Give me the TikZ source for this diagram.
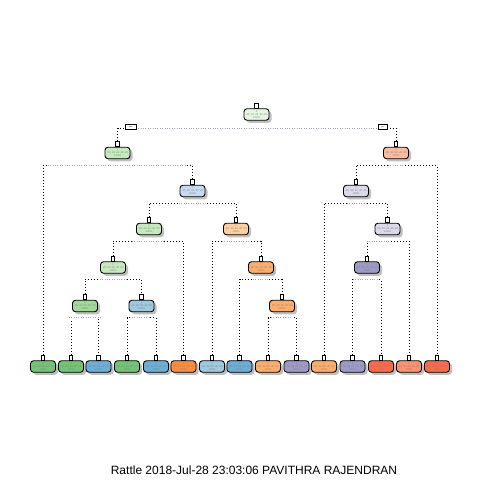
\documentclass[tikz,border=0pt]{standalone}
\usepackage{fontspec}
\setmainfont{Liberation Sans}
\usetikzlibrary{shadows}
\definecolor{cA}{HTML}{E5F5E0}
\definecolor{cG1}{HTML}{C7E9C0}
\definecolor{cG2}{HTML}{A1D99B}
\definecolor{cG3}{HTML}{74C476}
\definecolor{cB1}{HTML}{C6DBEF}
\definecolor{cB2}{HTML}{9ECAE1}
\definecolor{cB3}{HTML}{6BAED6}
\definecolor{cO1}{HTML}{FDD0A2}
\definecolor{cO2}{HTML}{FDAE6B}
\definecolor{cO3}{HTML}{FD8D3C}
\definecolor{cP1}{HTML}{DADAEB}
\definecolor{cP2}{HTML}{9E9AC8}
\definecolor{cR1}{HTML}{FCBBA1}
\definecolor{cR2}{HTML}{FC9272}
\definecolor{cR3}{HTML}{FB6A4A}
\definecolor{lblcol}{HTML}{A4A2C4}
\tikzset{
  nd/.style={draw=black, line width=0.9pt, rounded corners=3pt,
    minimum width=25pt, minimum height=11.5pt, inner sep=0pt,
    drop shadow={shadow xshift=2.5pt, shadow yshift=-2.5pt, fill=black, opacity=0.25},
    font=\fontsize{2.6}{2.9}\selectfont, text=black!50, align=center},
  tabbox/.style={draw=black, line width=0.7pt, fill=white, minimum width=3.6pt,
    minimum height=5pt, inner sep=0pt, anchor=south},
  br/.style={line width=1pt, dash pattern=on 1pt off 2pt},
  lblbox/.style={fill=white, inner sep=0pt, minimum height=2.2pt},
  lbldots/.style={draw=lblcol, line width=0.7pt, dash pattern=on 1pt off 1.4pt},
  yn/.style={draw=black, line width=0.8pt, fill=white, inner sep=0pt,
    minimum height=4.6pt, font=\fontsize{2}{2}\selectfont},
}
\newcommand\ntxt{1\\.20 .20 .20 .20 .20\\100\%}
\newcommand\treenode[4]{%
  \node[nd, fill=#4] (#1) at (#2,#3) {\ntxt};
  \node[tabbox] (#1t) at (#1.north) {};}
\newcommand\treesplit[7]{%
  \coordinate (#1s) at (#2,#3);
  \draw[br] (#4t.north) |- (#1s) -| (#5t.north);
  \node[lblbox, minimum width={(#7-#6)*1pt}] (#1l) at ({(#6+#7)/2},#3) {};
  \draw[lbldots] (#1l.west) -- (#1l.east);}
\begin{document}
\begin{tikzpicture}[x=1pt, y=-1pt]
\useasboundingbox (0,0) rectangle (480,480);
\fill[white] (0,0) rectangle (480,480);
% internal nodes
\treenode{n0}{256.5}{114.5}{cA}
\treenode{n1}{117.5}{153}{cG1}
\treenode{n2}{396}{153}{cR1}
\treenode{n3}{192.5}{191}{cB1}
\treenode{n4}{356}{191}{cP1}
\treenode{n5}{149}{229}{cG1}
\treenode{n6}{236}{229}{cO1}
\treenode{n7}{387.5}{229}{cP1}
\treenode{n8}{113}{267.5}{cG1}
\treenode{n9}{261}{267.5}{cO2}
\treenode{n10}{367}{267.5}{cP2}
\treenode{n11}{85}{306}{cG2}
\treenode{n12}{141.5}{306}{cB2}
\treenode{n13}{282}{306}{cO2}
% leaves
\treenode{f1}{43}{366.5}{cG3}
\treenode{f2}{71}{366.5}{cG3}
\treenode{f3}{98.5}{366.5}{cB3}
\treenode{f4}{127}{366.5}{cG3}
\treenode{f5}{156}{366.5}{cB3}
\treenode{f6}{183.5}{366.5}{cO3}
\treenode{f7}{212}{366.5}{cB2}
\treenode{f8}{239.5}{366.5}{cB3}
\treenode{f9}{268}{366.5}{cO2}
\treenode{f10}{296.5}{366.5}{cP2}
\treenode{f11}{324}{366.5}{cO2}
\treenode{f12}{352.5}{366.5}{cP2}
\treenode{f13}{381}{366.5}{cR3}
\treenode{f14}{409}{366.5}{cR2}
\treenode{f15}{437}{366.5}{cR3}
% splits
\treesplit{n0}{256.5}{128.3}{n1}{n2}{136}{378}
\treesplit{n1}{117.5}{165.3}{f1}{n3}{48}{185}
\treesplit{n2}{396}{165.3}{n4}{f15}{388}{404}
\treesplit{n3}{192.5}{203}{n5}{n6}{179}{205}
\treesplit{n4}{356}{203}{f11}{n7}{347}{367}
\treesplit{n5}{149}{241}{n8}{f6}{132}{164}
\treesplit{n6}{236}{241}{f7}{n9}{222}{249}
\treesplit{n7}{387.5}{241}{n10}{f14}{367}{390}
\treesplit{n8}{113}{279.3}{n11}{n12}{100}{127}
\treesplit{n9}{261}{279.3}{f8}{n13}{253}{268}
\treesplit{n10}{367}{279.3}{f12}{f13}{353}{377}
\treesplit{n11}{85}{317.7}{f2}{f3}{69}{102}
\treesplit{n12}{141.5}{317.7}{f4}{f5}{132}{149}
\treesplit{n13}{282}{317.7}{f9}{f10}{271}{292}
% yes / no boxes
\node[yn, minimum width=11pt] (yes) at (130.5,127) {yes};
\node[yn, minimum width=9pt] (no) at (382.5,127) {no};
% caption
\node[anchor=base, font=\fontsize{12}{14}\selectfont, inner sep=0pt] (cap) at (254,474.7)
  {Rattle 2018-Jul-28 23:03:06 PAVITHRA RAJENDRAN};
\end{tikzpicture}
\end{document}
